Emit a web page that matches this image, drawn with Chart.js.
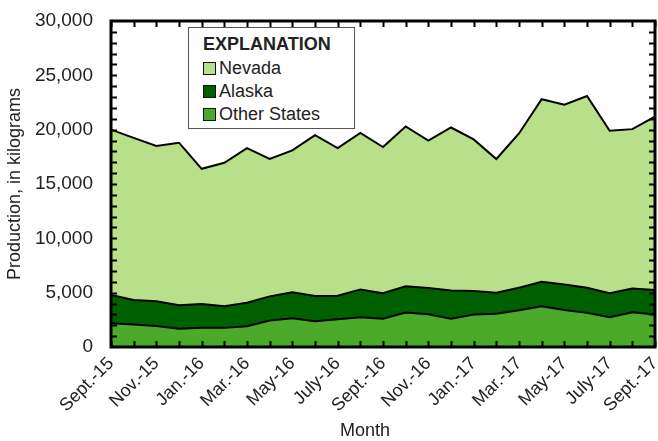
<!DOCTYPE html>
<html>
<head>
<meta charset="utf-8">
<script src="https://cdn.jsdelivr.net/npm/chart.js@4.4.1/dist/chart.umd.min.js"></script>
<style>
  html, body { margin: 0; padding: 0; background: #fff; }
  #wrap { position: relative; width: 658px; height: 441px; }
  #legend {
    position: absolute; left: 188px; top: 27px; width: 167px; height: 102px;
    border: 1px solid #555; background: #fff; box-sizing: border-box;
    font-family: "Liberation Sans Narrow", "Arial Narrow", "Liberation Sans", sans-serif;
    color: #222; padding: 4px 0 0 14px;
  }
  #legend .title { font-weight: bold; font-size: 18px; line-height: 24px; margin-bottom: 1px; }
  #legend .item { font-size: 18px; line-height: 23px; display: flex; align-items: center; }
  #legend .sw { width: 11px; height: 11px; border: 1.5px solid #111; margin-right: 3px; }
</style>
</head>
<body>
<div id="wrap">
  <canvas id="c" width="658" height="441"></canvas>
  <div id="legend"></div>
</div>
<script>
// Monthly production, September 2015 through September 2017
const months = ['Sept.-15','Oct.-15','Nov.-15','Dec.-15','Jan.-16','Feb.-16','Mar.-16','Apr.-16',
  'May-16','June-16','July-16','Aug.-16','Sept.-16','Oct.-16','Nov.-16','Dec.-16','Jan.-17',
  'Feb.-17','Mar.-17','Apr.-17','May-17','June-17','July-17','Aug.-17','Sept.-17'];

const otherStates = [2180, 2060, 1940, 1670, 1760, 1760, 1910, 2430, 2640, 2370, 2550, 2730, 2610,
  3170, 3010, 2610, 2980, 3070, 3380, 3740, 3410, 3140, 2730, 3190, 2980];
const alaska = [2610, 2270, 2260, 2170, 2200, 1990, 2170, 2230, 2390, 2330, 2170, 2570, 2330,
  2410, 2420, 2600, 2180, 1930, 2080, 2270, 2350, 2320, 2210, 2200, 2270];
const nevada = [15210, 14920, 14300, 14960, 12440, 13200, 14220, 12640, 13070, 14800, 13580, 14400, 13460,
  14720, 13570, 14990, 13940, 12300, 14190, 16790, 16540, 17640, 14960, 14660, 15950];

const seriesNames = ['Nevada', 'Alaska', 'Other States'];
const seriesColors = ['#b8e08a', '#006000', '#4caa2a'];
const yTicks = [0, 5000, 10000, 15000, 20000, 25000, 30000];
const xTitle = 'Month';

const FONT = '"Liberation Sans Narrow", "Arial Narrow", "Liberation Sans", sans-serif';

// Legend box
const legend = document.getElementById('legend');
legend.innerHTML = '<div class="title">EXPLANATION</div>' +
  seriesNames.map((n, i) =>
    '<div class="item"><span class="sw" style="background:' + seriesColors[i] + '"></span>' + n + '</div>'
  ).join('');

// Frame, inward tick marks on all four sides, and the x-axis title
const framePlugin = {
  id: 'frame',
  afterDatasetsDraw(chart) {
    const { ctx, chartArea: a, scales: { x, y } } = chart;
    ctx.save();
    ctx.strokeStyle = '#000';
    ctx.lineWidth = 2;
    const tl = 6;
    ctx.beginPath();
    for (let i = 0; i < months.length; i++) {
      const px = Math.round(x.getPixelForValue(i)) + 0.5;
      ctx.moveTo(px, a.bottom); ctx.lineTo(px, a.bottom - tl);
      ctx.moveTo(px, a.top); ctx.lineTo(px, a.top + tl);
    }
    for (let v = 1000; v < 30000; v += 1000) {
      const py = Math.round(y.getPixelForValue(v)) + 0.5;
      ctx.moveTo(a.left, py); ctx.lineTo(a.left + tl, py);
      ctx.moveTo(a.right, py); ctx.lineTo(a.right - tl, py);
    }
    ctx.stroke();
    ctx.lineWidth = 3;
    ctx.strokeRect(a.left, a.top, a.right - a.left, a.bottom - a.top);

    ctx.fillStyle = '#222';
    ctx.font = '18px ' + FONT;
    ctx.textAlign = 'center';
    ctx.textBaseline = 'middle';
    ctx.fillText(xTitle, a.left + (a.right - a.left) * 0.467, 431);
    ctx.restore();
  }
};

const ds = (label, data, color, fill) => ({
  label, data, backgroundColor: color, borderColor: '#000', borderWidth: 2,
  fill, pointRadius: 0, tension: 0
});

const noPad = s => { s.paddingLeft = 0; s.paddingRight = 0; s.paddingTop = 0; s.paddingBottom = 0; };

new Chart(document.getElementById('c'), {
  type: 'line',
  data: {
    labels: months,
    datasets: [
      ds(seriesNames[2], otherStates, seriesColors[2], 'origin'),
      ds(seriesNames[1], alaska, seriesColors[1], '-1'),
      ds(seriesNames[0], nevada, seriesColors[0], '-1')
    ]
  },
  options: {
    responsive: false,
    animation: false,
    layout: { padding: { top: 21, right: 3, left: 0, bottom: 0 } },
    plugins: { legend: { display: false }, tooltip: { enabled: false } },
    scales: {
      x: {
        offset: false,
        grid: { display: false, drawTicks: false },
        border: { display: false },
        ticks: {
          autoSkip: false, maxRotation: 45, minRotation: 45, padding: 6,
          color: '#222', font: { family: FONT, size: 18 },
          callback: (v, i) => (i % 2 === 0 ? months[i] : '')
        },
        afterFit: s => { s.height = 94; noPad(s); }
      },
      y: {
        stacked: true, min: 0, max: 30000,
        grid: { display: false, drawTicks: false },
        border: { display: false },
        afterBuildTicks: s => { s.ticks = yTicks.map(v => ({ value: v })); },
        ticks: {
          padding: 18, color: '#222', font: { family: FONT, size: 19 },
          callback: v => v.toLocaleString('en-US')
        },
        title: { display: true, text: 'Production, in kilograms', color: '#222', font: { family: FONT, size: 18 }, padding: { bottom: 0 } },
        afterFit: s => { s.width = 111; noPad(s); }
      }
    }
  },
  plugins: [framePlugin]
});
</script>
</body>
</html>
